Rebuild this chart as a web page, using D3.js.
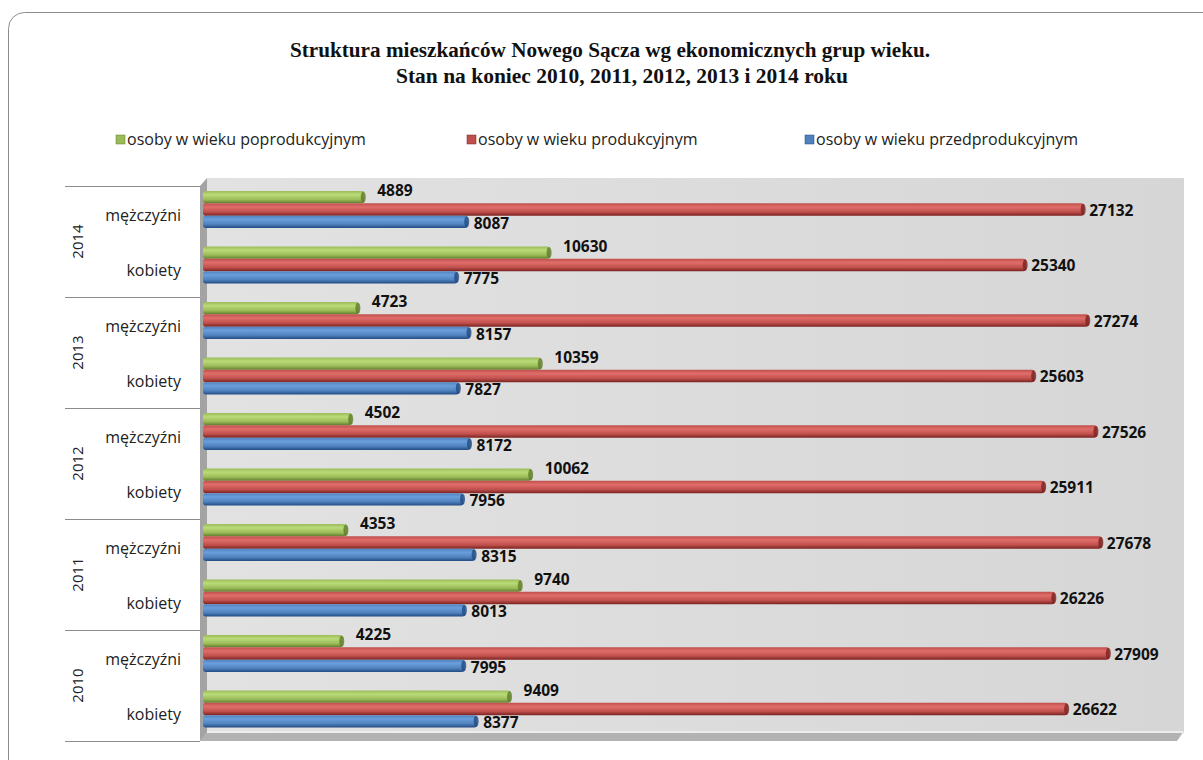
<!DOCTYPE html>
<html>
<head>
<meta charset="utf-8">
<script src="https://cdn.jsdelivr.net/npm/d3@7"></script>
<style>
  body { margin: 0; background: #fff; }
  svg { display: block; }
  .title { font-family: 'Liberation Serif', 'Times New Roman', serif; font-weight: bold; font-size: 20px; fill: #111; }
  .legend text, .cat { font-family: 'Open Sans', Lato, sans-serif; font-size: 16px; fill: #222; }
  .year { font-family: 'Open Sans', Lato, sans-serif; font-size: 15px; fill: #222; }
  .val { font-family: 'Open Sans', Lato, sans-serif; font-weight: bold; font-size: 15.5px; fill: #111; }
</style>
</head>
<body>
<div id="chart"></div>
<script>
// dane: lata od góry (2014) do dołu (2010)
const years = ['2014', '2013', '2012', '2011', '2010'];
const genders = ['mężczyźni', 'kobiety'];
const seriesNames = ['osoby w wieku poprodukcyjnym', 'osoby w wieku produkcyjnym', 'osoby w wieku przedprodukcyjnym'];

const poprodMen = [4889, 4723, 4502, 4353, 4225];
const poprodWomen = [10630, 10359, 10062, 9740, 9409];
const prodMen = [27132, 27274, 27526, 27678, 27909];
const prodWomen = [25340, 25603, 25911, 26226, 26622];
const przedMen = [8087, 8157, 8172, 8315, 7995];
const przedWomen = [7775, 7827, 7956, 8013, 8377];

const xTicks = [0, 30000];

const width = 1203, height = 760;
const svg = d3.select('#chart').append('svg')
    .attr('width', width)
    .attr('height', height);

// ramka wykresu
svg.append('rect')
    .attr('x', 8.5).attr('y', 12.5)
    .attr('width', 1220).attr('height', 800)
    .attr('rx', 16)
    .attr('fill', '#fff')
    .attr('stroke', '#8c8c8c')
    .attr('stroke-width', 1);

svg.append('text').attr('class', 'title')
    .attr('x', 610).attr('y', 57)
    .attr('text-anchor', 'middle')
    .attr('textLength', 640).attr('lengthAdjust', 'spacingAndGlyphs')
    .text('Struktura mieszkańców Nowego Sącza wg ekonomicznych grup wieku.');
svg.append('text').attr('class', 'title')
    .attr('x', 622).attr('y', 83)
    .attr('text-anchor', 'middle')
    .attr('textLength', 452).attr('lengthAdjust', 'spacingAndGlyphs')
    .text('Stan na koniec 2010, 2011, 2012, 2013 i 2014 roku');

const colors = {
    base: ['#9bbb59', '#c0504d', '#4f81bd'],
    light: ['#b9db78', '#e06d6a', '#6a9fdc'],
    dark: ['#5f7c2b', '#7a2321', '#224b82']
};

// gradienty "cylindrów"
const defs = svg.append('defs');
seriesNames.forEach((s, i) => {
    const g = defs.append('linearGradient')
        .attr('id', 'grad' + i)
        .attr('x1', 0).attr('y1', 0).attr('x2', 0).attr('y2', 1);
    g.append('stop').attr('offset', '0%').attr('stop-color', colors.base[i]);
    g.append('stop').attr('offset', '30%').attr('stop-color', colors.light[i]);
    g.append('stop').attr('offset', '70%').attr('stop-color', colors.base[i]);
    g.append('stop').attr('offset', '100%').attr('stop-color', colors.dark[i]);
});
const wallGrad = defs.append('linearGradient').attr('id', 'wall')
    .attr('x1', 0).attr('y1', 0).attr('x2', 1).attr('y2', 0);
wallGrad.append('stop').attr('offset', '0%').attr('stop-color', '#e2e2e2');
wallGrad.append('stop').attr('offset', '100%').attr('stop-color', '#d6d6d6');

// legenda
const legendX = [116, 467, 805];
const legend = svg.append('g').attr('class', 'legend');
seriesNames.forEach((s, i) => {
    legend.append('rect')
        .attr('x', legendX[i]).attr('y', 135)
        .attr('width', 9).attr('height', 9)
        .attr('fill', colors.base[i])
        .attr('stroke', colors.dark[i]).attr('stroke-width', 0.5);
    legend.append('text')
        .attr('x', legendX[i] + 11).attr('y', 145)
        .text(s);
});

// wiersze: rok x płeć
const rows = [];
years.forEach((yr, i) => {
    rows.push({ key: yr + '|' + genders[0], year: yr, gender: genders[0], values: [poprodMen[i], prodMen[i], przedMen[i]] });
    rows.push({ key: yr + '|' + genders[1], year: yr, gender: genders[1], values: [poprodWomen[i], prodWomen[i], przedWomen[i]] });
});

const plotTop = 186, plotBottom = 741, depth = 7;
const x = d3.scaleLinear().domain(d3.extent(xTicks)).range([206, 1177]);
const y = d3.scaleBand().domain(rows.map(r => r.key)).range([plotTop, plotBottom]);
const yYear = d3.scaleBand().domain(years).range([plotTop, plotBottom]);
const inner = d3.scaleBand().domain(d3.range(seriesNames.length)).range([5, 42]);

// ściany 3D
const x0 = x(0) - 6;
const x1 = x(30000);
svg.append('rect')
    .attr('x', x0 + depth).attr('y', plotTop - depth - 1)
    .attr('width', x1 - x0).attr('height', plotBottom - plotTop)
    .attr('fill', 'url(#wall)');
svg.append('path')
    .attr('d', `M${x0},${plotTop} L${x0 + depth},${plotTop - depth - 1} L${x0 + depth},${plotBottom - depth} L${x0},${plotBottom} Z`)
    .attr('fill', '#a3a3a3');
svg.append('path')
    .attr('d', `M${x0},${plotBottom} L${x0 + depth},${plotBottom - depth - 3} L${x1 + depth},${plotBottom - depth - 3} L${x1},${plotBottom} Z`)
    .attr('fill', '#b2b2b2');
svg.append('path')
    .attr('d', `M${x0 + depth},${plotBottom - depth - 3} L${x1 + depth},${plotBottom - depth - 3} L${x1 + depth - 1},${plotBottom - depth - 1} L${x0 + depth},${plotBottom - depth - 1} Z`)
    .attr('fill', '#ededed');

// oś kategorii
const axisG = svg.append('g');
axisG.selectAll('line.sep')
    .data(years.concat(['end']))
    .enter()
    .append('line')
    .attr('class', 'sep')
    .attr('x1', 65).attr('x2', x0)
    .attr('y1', (d, i) => Math.round(plotTop + i * yYear.bandwidth()) + 0.5)
    .attr('y2', (d, i) => Math.round(plotTop + i * yYear.bandwidth()) + 0.5)
    .attr('stroke', '#8c8c8c');

axisG.selectAll('text.cat')
    .data(rows)
    .enter()
    .append('text')
    .attr('class', 'cat')
    .attr('x', 181)
    .attr('y', d => y(d.key) + y.bandwidth() / 2 + 7)
    .attr('text-anchor', 'end')
    .text(d => d.gender);

axisG.selectAll('text.year')
    .data(years)
    .enter()
    .append('text')
    .attr('class', 'year')
    .attr('transform', d => `translate(83,${yYear(d) + yYear.bandwidth() / 2}) rotate(-90)`)
    .attr('text-anchor', 'middle')
    .text(d => d);

// słupki
const barH = inner.bandwidth();
const groups = svg.append('g')
    .selectAll('g.row')
    .data(rows)
    .enter()
    .append('g')
    .attr('class', 'row')
    .attr('transform', d => `translate(0,${y(d.key)})`);

groups.selectAll('rect.bar')
    .data(d => d.values.map((v, i) => ({ v, i })))
    .enter()
    .append('rect')
    .attr('class', 'bar')
    .attr('x', x0 + 3)
    .attr('y', d => inner(d.i))
    .attr('width', d => x(d.v) - x0 - 3)
    .attr('height', barH)
    .attr('rx', 3)
    .attr('fill', d => `url(#grad${d.i})`);

groups.selectAll('ellipse.cap')
    .data(d => d.values.map((v, i) => ({ v, i })))
    .enter()
    .append('ellipse')
    .attr('class', 'cap')
    .attr('cx', d => x(d.v) - 1)
    .attr('cy', d => inner(d.i) + barH / 2)
    .attr('rx', 2.5)
    .attr('ry', barH / 2 - 0.5)
    .attr('fill', d => colors.dark[d.i])
    .attr('opacity', 0.8);

// etykiety wartości
const labelDx = [13, 5, 6];
const labelDy = [-6, 1, 2];
groups.selectAll('text.val')
    .data(d => d.values.map((v, i) => ({ v, i })))
    .enter()
    .append('text')
    .attr('class', 'val')
    .attr('x', d => x(d.v) + labelDx[d.i])
    .attr('y', d => inner(d.i) + barH / 2 + labelDy[d.i] + 5)
    .text(d => d.v);
</script>
</body>
</html>
